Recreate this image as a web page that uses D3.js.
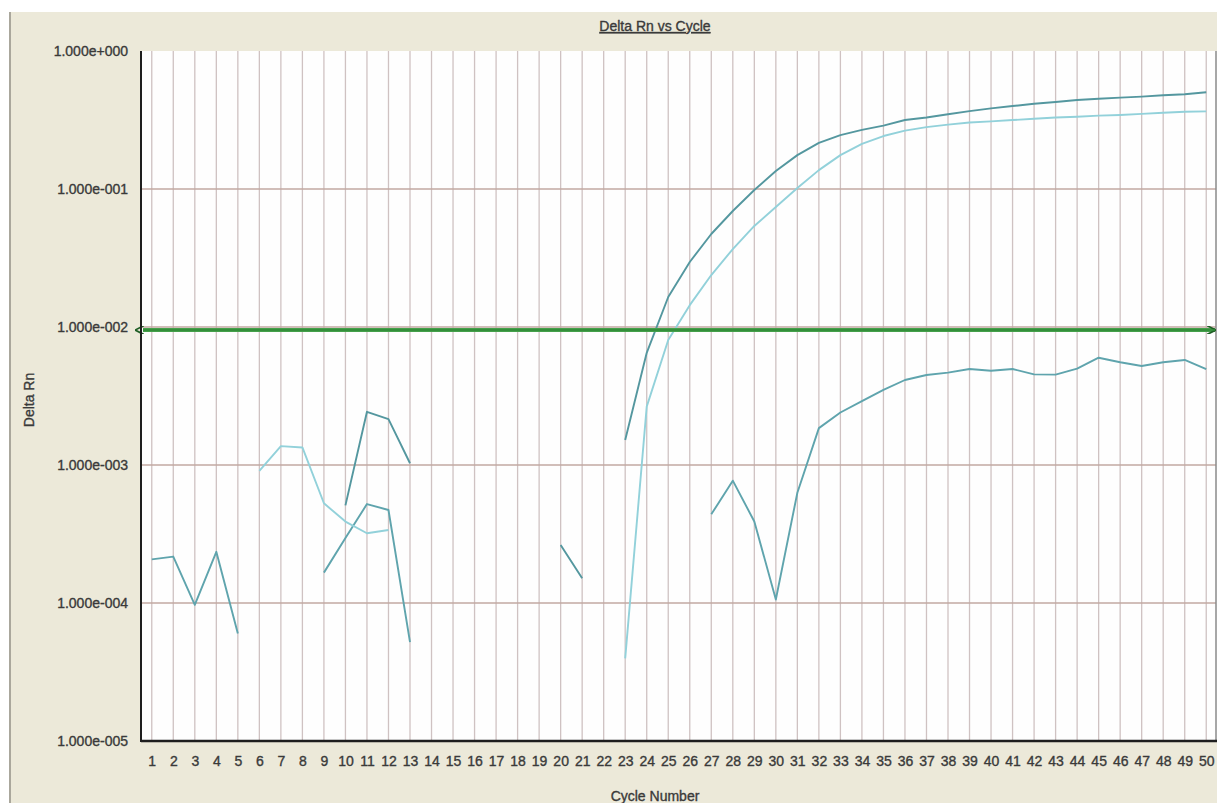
<!DOCTYPE html>
<html>
<head>
<meta charset="utf-8">
<script src="https://cdn.jsdelivr.net/npm/d3@7"></script>
<style>
  html, body { margin: 0; padding: 0; background: #ffffff; }
  svg { display: block; }
  text { font-family: "Liberation Sans", Arial, sans-serif; }
</style>
</head>
<body>
<script>
// Amplification plot: Delta Rn per PCR cycle on a log axis.
const cycles = [1,2,3,4,5,6,7,8,9,10,11,12,13,14,15,16,17,18,19,20,
                21,22,23,24,25,26,27,28,29,30,31,32,33,34,35,36,37,38,39,40,
                41,42,43,44,45,46,47,48,49,50];

// null = no positive value at that cycle (not drawn on a log scale)
const sampleA = [null,null,null,null,null,null,null,null,null,5.1e-4,
                 2.43e-3,2.15e-3,1.03e-3,null,null,null,null,null,null,2.63e-4,
                 1.51e-4,null,1.52e-3,6.5e-3,1.65e-2,2.96e-2,4.72e-2,6.93e-2,0.0984,0.135,
                 0.176,0.216,0.246,0.268,0.288,0.316,0.330,0.348,0.367,0.384,
                 0.399,0.415,0.427,0.442,0.451,0.459,0.467,0.478,0.486,0.502];

const sampleB = [null,null,null,null,null,9.05e-4,1.37e-3,1.34e-3,5.28e-4,3.89e-4,
                 3.2e-4,3.38e-4,null,null,null,null,null,null,null,null,
                 null,null,3.97e-5,2.65e-3,8.05e-3,1.44e-2,2.38e-2,3.67e-2,5.4e-2,7.41e-2,
                 0.1017,0.137,0.176,0.212,0.242,0.265,0.281,0.293,0.303,0.309,
                 0.316,0.323,0.330,0.334,0.340,0.344,0.350,0.357,0.363,0.365];

const sampleC = [2.07e-4,2.17e-4,9.7e-5,2.35e-4,6.0e-5,null,null,null,1.66e-4,2.96e-4,
                 5.21e-4,4.72e-4,5.2e-5,null,null,null,null,null,null,null,
                 null,null,null,null,null,null,4.39e-4,7.7e-4,3.9e-4,1.06e-4,
                 6.3e-4,1.85e-3,2.4e-3,2.9e-3,3.5e-3,4.13e-3,4.49e-3,4.67e-3,4.96e-3,4.82e-3,
                 4.96e-3,4.54e-3,4.52e-3,5.0e-3,5.99e-3,5.55e-3,5.22e-3,5.55e-3,5.77e-3,4.96e-3];

const threshold = 0.0095;

const yTickValues = [1e-5, 1e-4, 1e-3, 1e-2, 1e-1, 1];
const yTickLabels = ["1.000e-005","1.000e-004","1.000e-003","1.000e-002","1.000e-001","1.000e+000"];

const W = 1217, H = 803;
const plot = { left: 141, right: 1217, top: 51, bottom: 741 };
const ink = "#3a3a3a";

const svg = d3.select("body").append("svg").attr("width", W).attr("height", H);

// window panel
svg.append("rect").attr("x", 0).attr("y", 0).attr("width", W).attr("height", H).attr("fill", "#ffffff");
svg.append("rect").attr("x", 11).attr("y", 12).attr("width", W - 11).attr("height", H - 12).attr("fill", "#ece9d9");
svg.append("line").attr("x1", 10).attr("x2", 10).attr("y1", 12).attr("y2", H)
   .attr("stroke", "#aaa79c").attr("stroke-width", 2);

const x = d3.scalePoint().domain(cycles).range([plot.left, plot.right]).padding(0.5);
const y = d3.scaleLog().domain([1e-5, 1]).range([plot.bottom, plot.top]);

// plotting area
svg.append("rect").attr("x", plot.left).attr("y", plot.top)
   .attr("width", plot.right - plot.left).attr("height", plot.bottom - plot.top)
   .attr("fill", "#fefefe");

// grid
svg.append("g").selectAll("line").data(cycles).join("line")
   .attr("x1", d => x(d)).attr("x2", d => x(d))
   .attr("y1", plot.top).attr("y2", plot.bottom)
   .attr("stroke", "#cfc2c2").attr("stroke-width", 1.3);
svg.append("g").selectAll("line").data(yTickValues.slice(1, -1)).join("line")
   .attr("x1", plot.left).attr("x2", plot.right - 1)
   .attr("y1", d => y(d)).attr("y2", d => y(d))
   .attr("stroke", "#c2a8a2").attr("stroke-width", 1.3);

// right border
svg.append("line").attr("x1", plot.right - 1).attr("x2", plot.right - 1)
   .attr("y1", plot.top).attr("y2", plot.bottom)
   .attr("stroke", "#8a8a8a").attr("stroke-width", 1.5);

// sample curves
const series = [
  { values: sampleC, color: "#5fa4ad" },
  { values: sampleB, color: "#92d1da" },
  { values: sampleA, color: "#54979f" }
];
const line = d3.line()
  .defined(d => d.v != null)
  .x(d => x(d.c))
  .y(d => y(d.v));

svg.append("g").selectAll("path").data(series).join("path")
   .attr("d", s => line(cycles.map((c, i) => ({ c: c, v: s.values[i] }))))
   .attr("fill", "none")
   .attr("stroke", s => s.color)
   .attr("stroke-width", 1.9)
   .attr("stroke-linejoin", "round");

// threshold line with end arrows
const defs = svg.append("defs");
["start", "end"].forEach(k => {
  defs.append("marker")
    .attr("id", "arr-" + k)
    .attr("viewBox", "0 0 10 10").attr("refX", k === "end" ? 9 : 1).attr("refY", 5)
    .attr("markerWidth", 2.2).attr("markerHeight", 2.2)
    .attr("orient", "auto-start-reverse")
    .append("path").attr("d", "M0,0 L10,5 L0,10")
    .attr("fill", "none").attr("stroke", "#1f5e25").attr("stroke-width", 2);
});
svg.append("line")
   .attr("x1", plot.left + 2).attr("x2", plot.right - 2)
   .attr("y1", y(threshold)).attr("y2", y(threshold))
   .attr("stroke", "#45a04b").attr("stroke-width", 4)
   .attr("marker-start", "url(#arr-start)")
   .attr("marker-end", "url(#arr-end)");
svg.append("line")
   .attr("x1", plot.left + 2).attr("x2", plot.right - 2)
   .attr("y1", y(threshold)).attr("y2", y(threshold))
   .attr("stroke", "#2f8a36").attr("stroke-width", 1.5);

// axes
const styleText = sel => sel.attr("font-size", 14).attr("fill", ink)
  .attr("stroke", ink).attr("stroke-width", 0.35)
  .attr("font-family", "Liberation Sans, Arial, sans-serif");

const yAxis = svg.append("g").attr("transform", `translate(${plot.left},0)`)
  .call(d3.axisLeft(y).tickValues(yTickValues)
        .tickFormat((d, i) => yTickLabels[i]).tickSize(0).tickPadding(13));
yAxis.select(".domain").remove();
yAxis.selectAll("text").call(styleText);

const xAxis = svg.append("g").attr("transform", `translate(0,${plot.bottom})`)
  .call(d3.axisBottom(x).tickSize(0).tickPadding(15));
xAxis.select(".domain").remove();
xAxis.selectAll("text").call(styleText);

svg.append("line").attr("x1", plot.left).attr("x2", plot.left)
   .attr("y1", plot.top).attr("y2", plot.bottom + 1)
   .attr("stroke", "#1e1e1e").attr("stroke-width", 2);
svg.append("line").attr("x1", plot.left).attr("x2", plot.right)
   .attr("y1", plot.bottom).attr("y2", plot.bottom)
   .attr("stroke", "#1e1e1e").attr("stroke-width", 2.5);

// titles
svg.append("text").attr("x", 655).attr("y", 31).attr("text-anchor", "middle")
   .call(styleText)
   .attr("text-decoration", "underline")
   .text("Delta Rn vs Cycle");
svg.append("text").attr("x", 655).attr("y", 801).attr("text-anchor", "middle")
   .call(styleText)
   .text("Cycle Number");
svg.append("text").attr("transform", "translate(34,400) rotate(-90)")
   .attr("text-anchor", "middle")
   .call(styleText)
   .text("Delta Rn");
</script>
</body>
</html>
